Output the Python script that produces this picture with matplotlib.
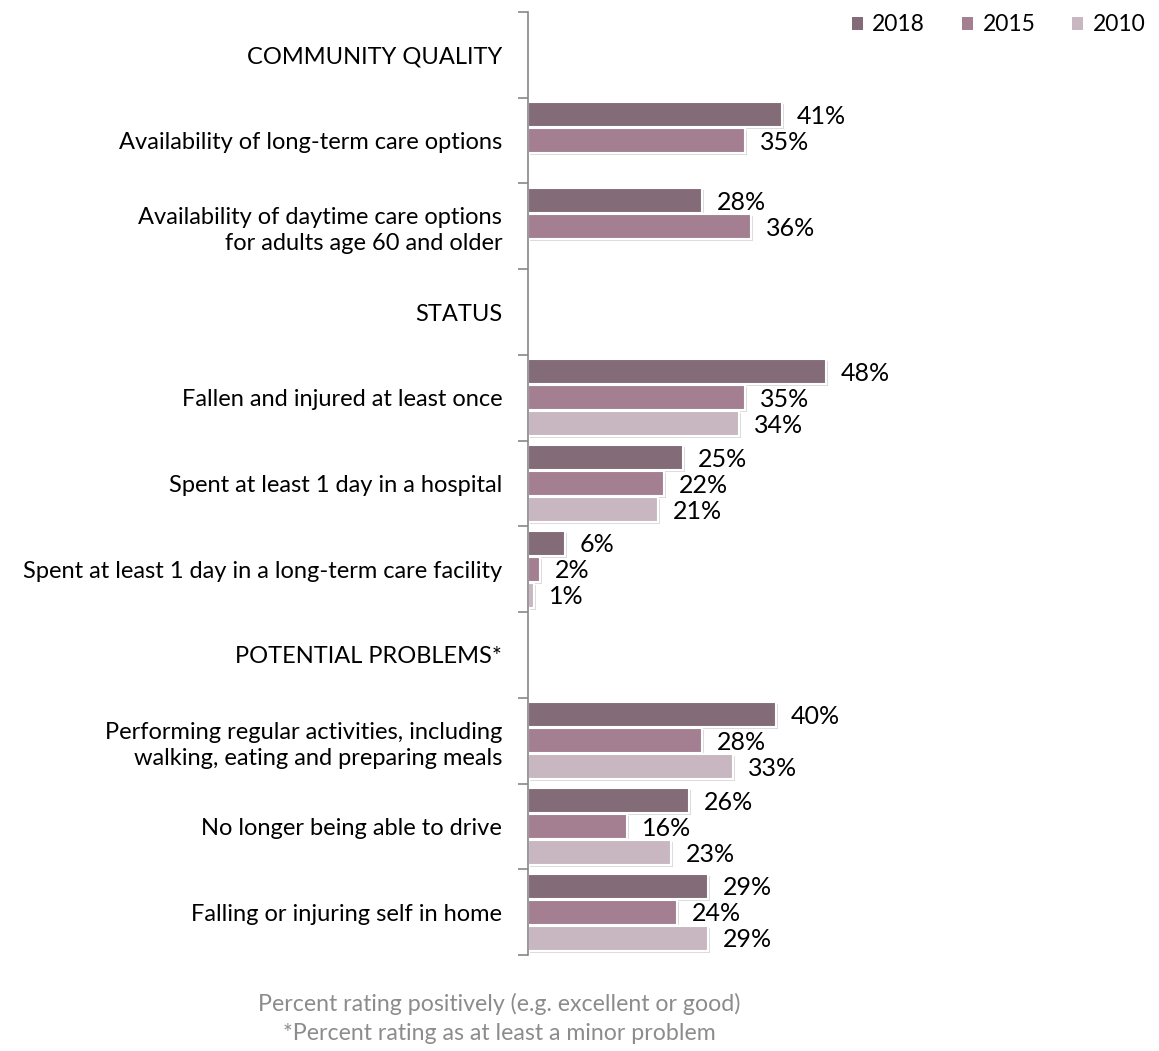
import numpy as np
import matplotlib.pyplot as plt
import matplotlib.patheffects as pe

plt.rcParams['font.family'] = ['Lato', 'DejaVu Sans']

# rows top to bottom; section headers carry no bars
categories = [
    "COMMUNITY QUALITY",
    "Availability of long-term care options",
    "Availability of daytime care options\nfor adults age 60 and older",
    "STATUS",
    "Fallen and injured at least once",
    "Spent at least 1 day in a hospital",
    "Spent at least 1 day in a long-term care facility",
    "POTENTIAL PROBLEMS*",
    "Performing regular activities, including\nwalking, eating and preparing meals",
    "No longer being able to drive",
    "Falling or injuring self in home",
]
years = ["2018", "2015", "2010"]
vals_2018 = [None, 41, 28, None, 48, 25, 6, None, 40, 26, 29]
vals_2015 = [None, 35, 36, None, 35, 22, 2, None, 28, 16, 24]
vals_2010 = [None, None, None, None, 34, 21, 1, None, 33, 23, 29]
colors = ["#836B77", "#A47F92", "#C8B7C1"]

fig = plt.figure(figsize=(11.59, 10.51), dpi=100)
ax = fig.add_axes([528 / 1159, 1 - 955 / 1051, 620 / 1159, 943 / 1051])

n = len(categories)
y = np.arange(n)
step = 0.303
shadow = [pe.SimplePatchShadow(offset=(1.5, -1.5), shadow_rgbFace="#999999", alpha=0.35), pe.Normal()]

for k, (vals, col, yr) in enumerate(zip([vals_2018, vals_2015, vals_2010], colors, years)):
    offs = (k - 1) * step
    for i, v in enumerate(vals):
        if v is None:
            continue
        b = ax.barh(y[i] + offs, v, height=0.29, color=col, edgecolor="white", linewidth=1.5)
        b[0].set_path_effects(shadow)
        ax.text(v + 2.4, y[i] + offs + 0.02, f"{v}%", va="center", ha="left", fontsize=18, color="black")
    ax.bar(0, 0, color=col, label=yr)  # legend handle

ax.set_xlim(0, 100)
ax.set_ylim(n - 0.5, -0.5)
ax.set_yticks(y)
ax.set_yticklabels(categories, fontsize=17, linespacing=1.3)
ax.set_yticks(np.arange(n + 1) - 0.5, minor=True)
ax.tick_params(axis="y", which="major", length=0, pad=18.5)
ax.tick_params(axis="y", which="minor", length=7, color="#888888", width=1.2)
ax.set_xticks([])
for s in ["top", "right", "bottom"]:
    ax.spines[s].set_visible(False)
ax.spines["left"].set_color("#888888")
ax.spines["left"].set_linewidth(1.2)

leg = fig.legend(loc="upper right", bbox_to_anchor=(1.006, 1.006), ncol=3, frameon=False,
                 fontsize=16.5, handlelength=0.5, handleheight=0.5, handletextpad=0.4, columnspacing=1.6)

fig.text(499 / 1159, 1 - 1004 / 1051, "Percent rating positively (e.g. excellent or good)",
         ha="center", va="center", fontsize=16.7, color="#8C8C8C")
fig.text(499 / 1159, 1 - 1033 / 1051, "*Percent rating as at least a minor problem",
         ha="center", va="center", fontsize=16.7, color="#8C8C8C")

fig.savefig("out.png", dpi=100)
